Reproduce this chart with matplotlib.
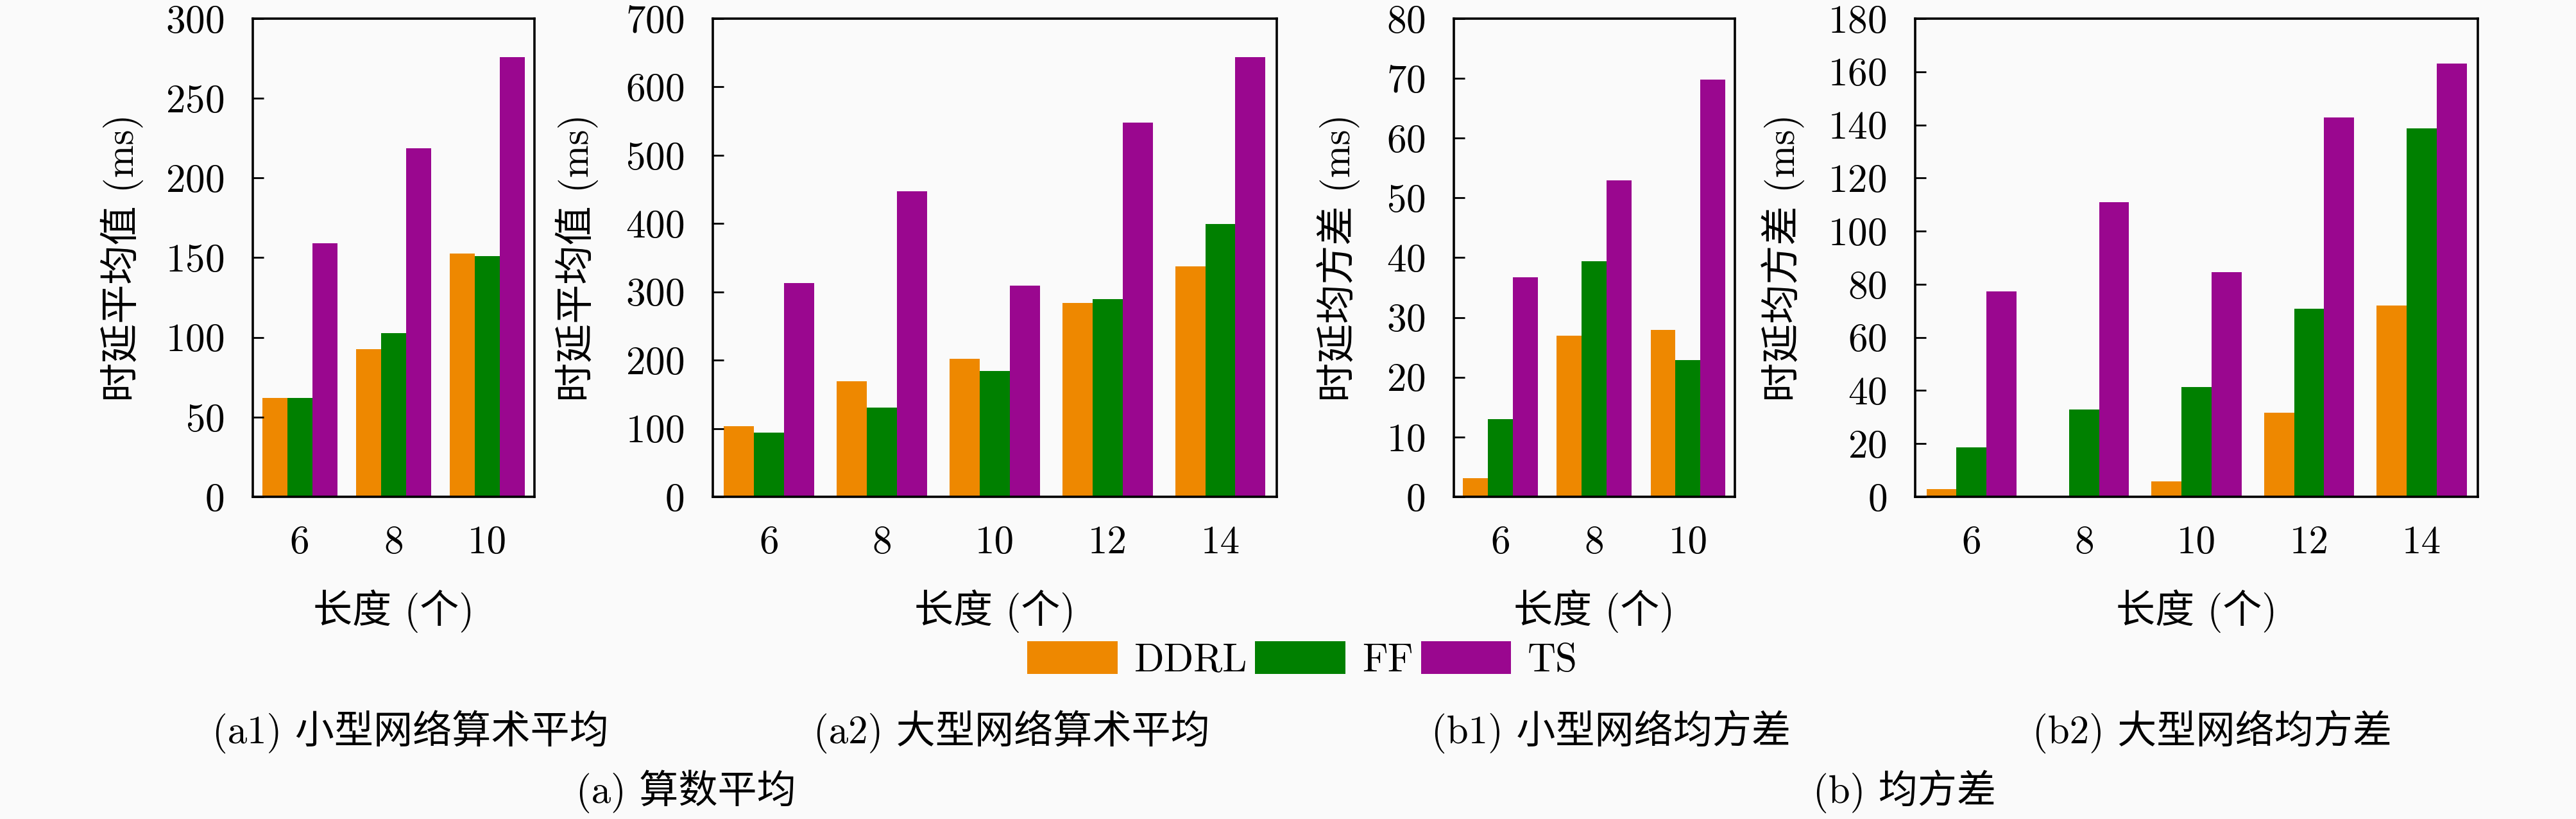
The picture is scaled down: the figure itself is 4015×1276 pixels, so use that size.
import matplotlib
matplotlib.use("Agg")
import matplotlib.pyplot as plt
import numpy as np

plt.rcParams['font.family'] = ['cmr10', 'Noto Sans CJK SC', 'DejaVu Sans']
plt.rcParams['axes.formatter.use_mathtext'] = True
plt.rcParams['font.size'] = 22

methods = ["DDRL", "FF", "TS"]
colors = ["#ee8800", "#008000", "#9a078f"]

small_len = ["6", "8", "10"]
large_len = ["6", "8", "10", "12", "14"]

# (a1) small network mean delay
a1_ddrl = [62, 92.5, 152.5]
a1_ff = [62, 102.5, 151]
a1_ts = [159, 218.5, 276]

# (a2) large network mean delay
a2_ddrl = [103, 169, 202, 283.5, 337]
a2_ff = [94, 131, 184.5, 289, 399]
a2_ts = [313, 447, 309, 548, 644]

# (b1) small network delay std
b1_ddrl = [3.1, 27.0, 27.9]
b1_ff = [13.0, 39.4, 22.9]
b1_ts = [36.7, 52.9, 69.8]

# (b2) large network delay std
b2_ddrl = [2.9, 0, 5.9, 31.7, 72.0]
b2_ff = [18.5, 32.8, 41.3, 70.9, 138.7]
b2_ts = [77.4, 111, 84.6, 142.9, 163]

ylabels = ["时延平均值 (ms)", "时延平均值 (ms)", "时延均方差 (ms)", "时延均方差 (ms)"]
xlabel = "长度 (个)"

panels = [
    (small_len, [a1_ddrl, a1_ff, a1_ts], 300, 50),
    (large_len, [a2_ddrl, a2_ff, a2_ts], 700, 100),
    (small_len, [b1_ddrl, b1_ff, b1_ts], 80, 10),
    (large_len, [b2_ddrl, b2_ff, b2_ts], 180, 20),
]

# axes rectangles [left, bottom, width, height] in figure fraction
rects = [
    [0.0981, 0.3934, 0.1093, 0.5839],
    [0.2766, 0.3934, 0.2189, 0.5839],
    [0.5642, 0.3934, 0.1091, 0.5839],
    [0.7433, 0.3934, 0.2184, 0.5839],
]
ylab_x = [-0.387, -0.2025, -0.333, -0.196]

fig = plt.figure(figsize=(20.08, 6.38), dpi=200, facecolor="#fafafa")

width = 0.8 / 3
handles = None
for i, (cats, series, ymax, step) in enumerate(panels):
    ax = fig.add_axes(rects[i])
    ax.set_facecolor("#fafafa")
    x = np.arange(len(cats))
    bars = []
    for j, vals in enumerate(series):
        b = ax.bar(x + (j - 1) * width, vals, width, color=colors[j], label=methods[j])
        bars.append(b)
    if handles is None:
        handles = bars
    ax.set_xlim(-0.5, len(cats) - 0.5)
    ax.set_ylim(0, ymax)
    ax.set_yticks(np.arange(0, ymax + 1, step))
    ax.set_xticks(x)
    ax.set_xticklabels(cats)
    ax.tick_params(axis='y', direction='in', length=6, width=1, pad=16)
    ax.tick_params(axis='x', length=0, pad=16)
    for s in ax.spines.values():
        s.set_linewidth(1.3)
    ax.set_xlabel(xlabel, labelpad=16)
    ax.set_ylabel(ylabels[i])
    ax.yaxis.set_label_coords(ylab_x[i], 0.5)

fig.legend(handles, methods, loc='center', bbox_to_anchor=(0.5055, 0.194), ncol=3,
           frameon=False, handlelength=2.3, handleheight=0.9, handletextpad=0.42,
           columnspacing=0.2)

captions = ["(a1) 小型网络算术平均", "(a2) 大型网络算术平均", "(b1) 小型网络均方差", "(b2) 大型网络均方差"]
cap_x = [0.1594, 0.3927, 0.6252, 0.8586]
for cx, c in zip(cap_x, captions):
    fig.text(cx, 0.1066, c, ha='center', va='center')

fig.text(0.2664, 0.0337, "(a) 算数平均", ha='center', va='center')
fig.text(0.7393, 0.0337, "(b) 均方差", ha='center', va='center')

fig.savefig("out.png", dpi=200, facecolor=fig.get_facecolor())
